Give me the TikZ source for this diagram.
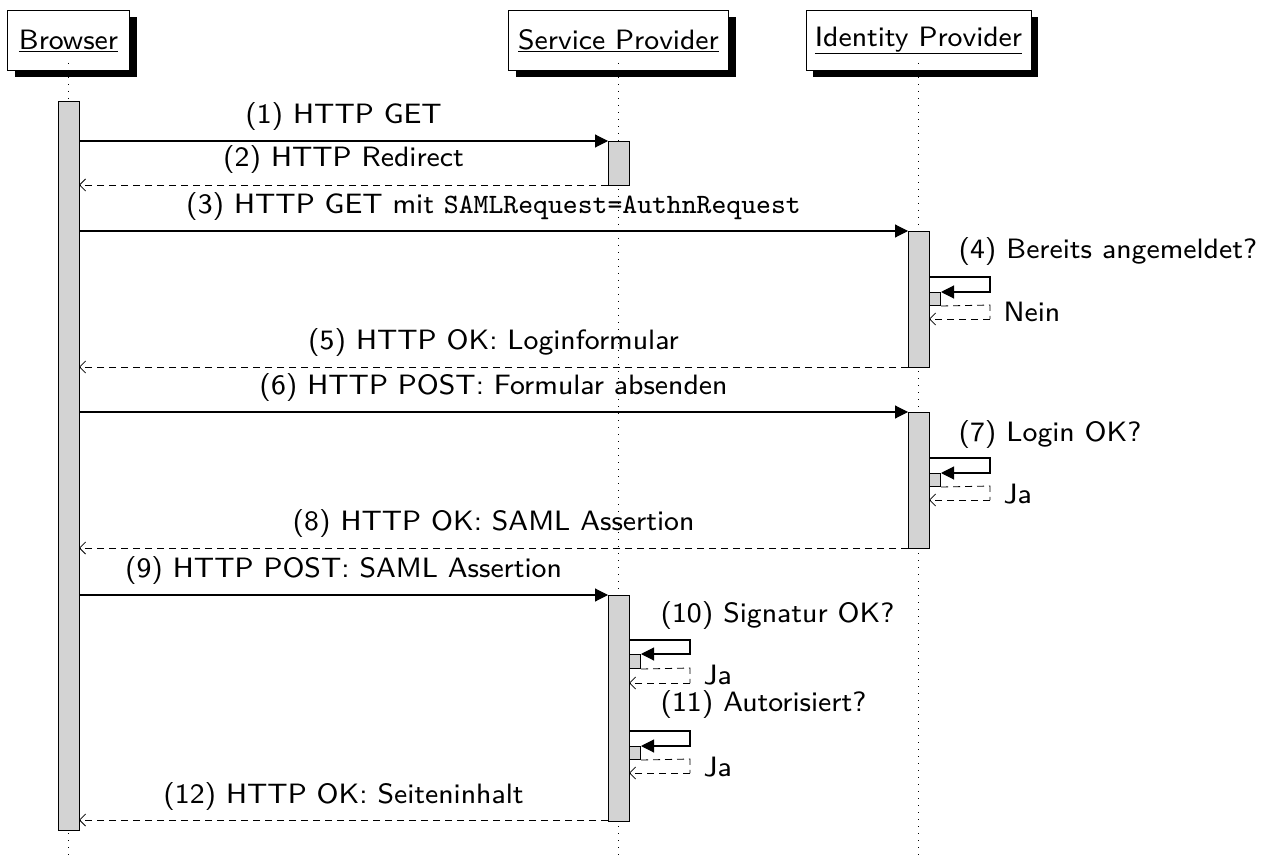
\documentclass[tikz,border=0pt]{standalone}
\usepackage{fontspec}
\newfontfamily\diagfont{lmsans8-regular.otf}
\newfontfamily\diagmono{lmmono8-regular.otf}
\usetikzlibrary{arrows.meta,shadows}
\definecolor{actgray}{RGB}{211,211,211}
\begin{document}
\begin{tikzpicture}[x=1pt,y=-1pt,
  font=\diagfont\fontsize{28}{33}\selectfont,
  hdr/.style={draw, fill=white, line width=1pt, minimum height=60pt, inner sep=0pt,
    drop shadow={shadow xshift=7pt, shadow yshift=-7pt, opacity=1, fill=black}},
  actbar/.style={draw, fill=actgray, line width=1pt, inner sep=0pt, minimum width=21pt, anchor=north},
  subbar/.style={draw, fill=actgray, line width=1pt, inner sep=0pt, minimum width=11pt, anchor=north west},
  call/.style={line width=1.1pt, -{Triangle[length=13pt,width=13pt]}},
  ret/.style={line width=0.8pt, dash pattern=on 7pt off 5pt, -{Straight Barb[length=6pt,width=12pt]}},
  selfret/.style={line width=0.8pt, dash pattern=on 7pt off 5pt},
  life/.style={line width=0.8pt, dash pattern=on 1pt off 6pt},
  msg/.style={anchor=base},
  slbl/.style={anchor=base west}]
\useasboundingbox (0,0) rectangle (1268,858);
% headers
\node[hdr, minimum width=122pt] (B) at (68.5,40.5) {\underline{Browser}};
\node[hdr, minimum width=220pt] (S) at (618.5,40.5) {\underline{Service Provider}};
\node[hdr, minimum width=225pt] (I) at (918.5,40.5) {\underline{Identity Provider}};
% lifelines
\coordinate (Bend) at (68.5,858);
\coordinate (Send) at (618.5,858);
\coordinate (Iend) at (918.5,858);
\draw[life] ([yshift=8pt]B.south) -- (Bend);
\draw[life] ([yshift=8pt]S.south) -- (Send);
\draw[life] ([yshift=8pt]I.south) -- (Iend);
% activation bars
\node[actbar, minimum height=729pt] (aB) at (68.5,101) {};
\node[actbar, minimum height=44pt] (aS1) at (618.5,141) {};
\node[actbar, minimum height=136pt] (aI1) at (918.5,231) {};
\node[actbar, minimum height=136pt] (aI2) at (918.5,412) {};
\node[actbar, minimum height=226pt] (aS2) at (618.5,595) {};
% message end points
\coordinate (m1a) at (79,141);  \coordinate (m1b) at (608,141);
\coordinate (m2a) at (608,185); \coordinate (m2b) at (79,185);
\coordinate (m3a) at (79,231);  \coordinate (m3b) at (908,231);
\coordinate (m5a) at (908,367); \coordinate (m5b) at (79,367);
\coordinate (m6a) at (79,412);  \coordinate (m6b) at (908,412);
\coordinate (m8a) at (908,548); \coordinate (m8b) at (79,548);
\coordinate (m9a) at (79,595);  \coordinate (m9b) at (608,595);
\coordinate (m12a) at (608,820); \coordinate (m12b) at (79,820);
% messages
\draw[call] (m1a) -- (m1b);
\node[msg] (l1) at (343.5,124) {(1) HTTP GET};
\draw[ret] (m2a) -- (m2b);
\node[msg] (l2) at (343.5,167) {(2) HTTP Redirect};
\draw[call] (m3a) -- (m3b);
\node[msg] (l3) at (493.5,214) {(3) HTTP GET mit {\diagmono SAMLRequest=AuthnRequest}};
\draw[ret] (m5a) -- (m5b);
\node[msg] (l5) at (493.5,349) {(5) HTTP OK: Loginformular};
\draw[call] (m6a) -- (m6b);
\node[msg] (l6) at (493.5,394) {(6) HTTP POST: Formular absenden};
\draw[ret] (m8a) -- (m8b);
\node[msg] (l8) at (493.5,530) {(8) HTTP OK: SAML Assertion};
\draw[call] (m9a) -- (m9b);
\node[msg] (l9) at (343.5,577) {(9) HTTP POST: SAML Assertion};
\draw[ret] (m12a) -- (m12b);
\node[msg] (l12) at (343.5,803) {(12) HTTP OK: Seiteninhalt};
% self call 4
\coordinate (c4a) at (929,277); \coordinate (c4r) at (990,277); \coordinate (c4s) at (990,292);
\node[subbar, minimum height=13pt] (s4) at (929,292) {};
\draw[call] (c4a) -- (c4r) -- (c4s) -- (s4.north east);
\coordinate (r4r) at (990,305); \coordinate (r4s) at (990,319); \coordinate (r4e) at (929,319);
\draw[selfret] (s4.south east) -- (r4r) -- (r4s);
\draw[ret] (r4s) -- (r4e);
\node[slbl] (l4) at (955,259) {(4) Bereits angemeldet?};
\node[slbl] (n4) at (1000,322) {Nein};
% self call 7
\coordinate (c7a) at (929,458); \coordinate (c7r) at (990,458); \coordinate (c7s) at (990,473);
\node[subbar, minimum height=13pt] (s7) at (929,473) {};
\draw[call] (c7a) -- (c7r) -- (c7s) -- (s7.north east);
\coordinate (r7r) at (990,486); \coordinate (r7s) at (990,500); \coordinate (r7e) at (929,500);
\draw[selfret] (s7.south east) -- (r7r) -- (r7s);
\draw[ret] (r7s) -- (r7e);
\node[slbl] (l7) at (955,441) {(7) Login OK?};
\node[slbl] (n7) at (1000,503) {Ja};
% self call 10
\coordinate (c10a) at (629,640); \coordinate (c10r) at (690,640); \coordinate (c10s) at (690,654);
\node[subbar, minimum height=14pt] (s10) at (629,654) {};
\draw[call] (c10a) -- (c10r) -- (c10s) -- (s10.north east);
\coordinate (r10r) at (690,668); \coordinate (r10s) at (690,683); \coordinate (r10e) at (629,683);
\draw[selfret] (s10.south east) -- (r10r) -- (r10s);
\draw[ret] (r10s) -- (r10e);
\node[slbl] (l10) at (657,622) {(10) Signatur OK?};
\node[slbl] (n10) at (700,684) {Ja};
% self call 11
\coordinate (c11a) at (629,731); \coordinate (c11r) at (690,731); \coordinate (c11s) at (690,746);
\node[subbar, minimum height=13pt] (s11) at (629,746) {};
\draw[call] (c11a) -- (c11r) -- (c11s) -- (s11.north east);
\coordinate (r11r) at (690,759); \coordinate (r11s) at (690,773); \coordinate (r11e) at (629,773);
\draw[selfret] (s11.south east) -- (r11r) -- (r11s);
\draw[ret] (r11s) -- (r11e);
\node[slbl] (l11) at (657,711) {(11) Autorisiert?};
\node[slbl] (n11) at (700,776) {Ja};
\end{tikzpicture}
\end{document}
